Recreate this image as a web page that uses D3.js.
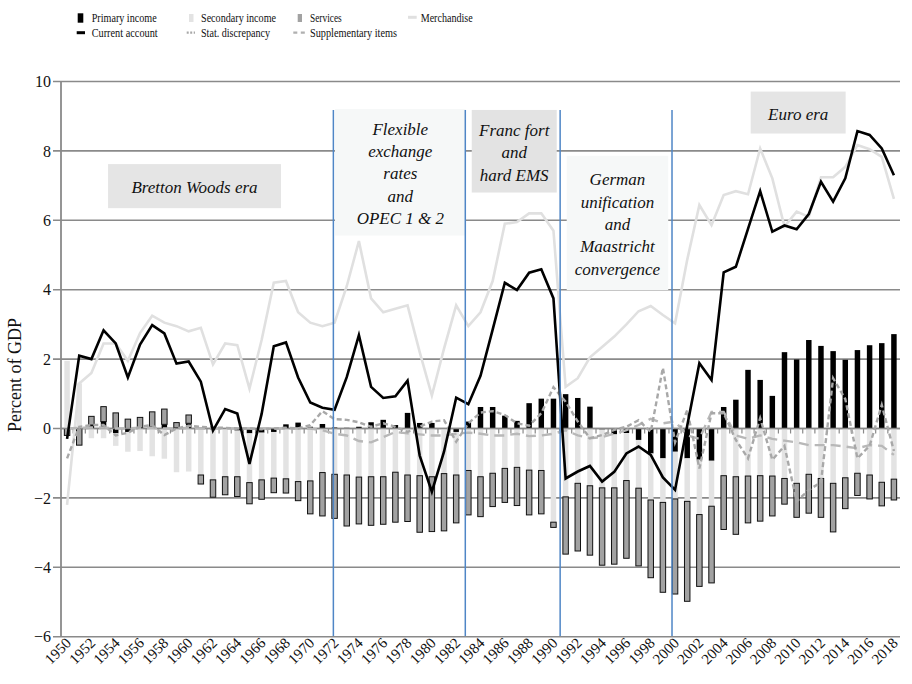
<!DOCTYPE html>
<html><head><meta charset="utf-8">
<script src="https://cdn.jsdelivr.net/npm/d3@7"></script>
<style>
body{margin:0;background:#fff}
svg{display:block}
text{font-family:"Liberation Serif","Times New Roman",serif;fill:#111}
</style>
</head><body><svg id="chart" width="912" height="684"></svg>
<script>
// ---------------- DATA ----------------
const years = [1950,1951,1952,1953,1954,1955,1956,1957,1958,1959,1960,1961,1962,1963,1964,1965,1966,1967,1968,1969,
1970,1971,1972,1973,1974,1975,1976,1977,1978,1979,1980,1981,1982,1983,1984,1985,1986,1987,1988,1989,
1990,1991,1992,1993,1994,1995,1996,1997,1998,1999,2000,2001,2002,2003,2004,2005,2006,2007,2008,2009,
2010,2011,2012,2013,2014,2015,2016,2017,2018];

const primaryIncome = [0.0,0.0,0.1,0.2,-0.14,-0.1,0.02,0.05,0.12,0.02,0.15,0.02,-0.03,0.0,-0.06,-0.14,-0.12,-0.1,0.12,0.17,
0.05,0.13,0.03,0.02,0.05,0.18,0.25,0.1,0.45,0.16,0.16,0.0,-0.1,0.2,0.62,0.62,0.37,0.22,0.73,0.86,
0.86,0.99,0.88,0.63,-0.03,-0.17,-0.13,-0.33,-0.72,-0.86,-0.67,-0.86,-0.9,-0.93,0.62,0.83,1.69,1.4,0.94,2.2,
1.99,2.55,2.38,2.23,1.98,2.26,2.4,2.46,2.72];

const secondaryIncome = [1.95,1.3,-0.28,-0.28,-0.36,-0.57,-0.65,-0.8,-0.87,-1.26,-1.24,-1.34,-1.45,-1.39,-1.33,-1.42,-1.36,-1.33,-1.45,-1.53,
-1.51,-1.27,-1.32,-1.34,-1.4,-1.39,-1.39,-1.26,-1.34,-1.36,-1.39,-1.3,-1.24,-1.21,-1.39,-1.29,-1.15,-1.12,-1.2,-1.21,
-2.7,-1.97,-1.58,-1.65,-1.68,-1.54,-1.37,-1.39,-1.34,-1.27,-1.36,-1.24,-1.58,-1.31,-1.36,-1.39,-1.37,-1.36,-1.37,-1.44,
-1.58,-1.32,-1.44,-1.58,-1.42,-1.29,-1.34,-1.55,-1.46];

const services = [-0.2,-0.48,0.25,0.43,0.45,0.27,0.3,0.43,0.44,0.15,0.24,-0.26,-0.5,-0.52,-0.57,-0.61,-0.56,-0.42,-0.41,-0.55,
-0.95,-1.25,-1.27,-1.47,-1.35,-1.4,-1.37,-1.44,-1.34,-1.63,-1.58,-1.65,-1.38,-1.28,-1.15,-0.96,-0.98,-1.1,-1.29,-1.25,
-0.15,-1.65,-1.95,-2.0,-2.23,-2.2,-2.24,-2.24,-2.24,-2.59,-2.74,-2.88,-2.07,-2.21,-1.55,-1.66,-1.35,-1.31,-1.15,-0.74,
-0.98,-1.12,-1.12,-1.4,-0.89,-0.64,-0.69,-0.68,-0.6];

const merchandise = [-2.2,1.3,1.6,2.45,2.45,1.95,2.75,3.25,3.05,2.95,2.8,2.9,1.85,2.45,2.4,1.15,2.55,4.2,4.25,3.35,
3.05,2.95,3.05,4.1,5.4,3.75,3.35,3.45,3.55,2.2,0.95,2.3,3.55,2.95,3.35,4.25,5.9,5.95,6.2,6.2,
5.7,1.2,1.45,2.05,2.35,2.65,3.0,3.38,3.53,3.27,3.03,4.86,6.44,5.86,6.73,6.84,6.75,8.07,7.21,5.82,
6.25,6.1,7.24,7.24,7.54,8.17,8.05,7.83,6.62];

const currentAccount = [-0.3,2.1,2.0,2.83,2.45,1.47,2.42,2.98,2.74,1.87,1.93,1.35,-0.06,0.56,0.43,-1.02,0.42,2.37,2.48,1.47,
0.75,0.6,0.54,1.48,2.69,1.2,0.88,0.93,1.38,-0.78,-1.82,-0.67,0.89,0.7,1.52,2.85,4.2,3.99,4.49,4.59,
3.75,-1.44,-1.24,-1.08,-1.53,-1.25,-0.72,-0.52,-0.76,-1.41,-1.77,0.08,1.88,1.4,4.5,4.66,5.75,6.84,5.67,5.85,
5.74,6.18,7.11,6.54,7.21,8.57,8.46,8.07,7.3];

const statDiscrepancy = [-0.86,0.05,0.1,0.1,-0.2,-0.12,0.05,0.1,-0.19,0.0,0.08,0.05,0.03,0.02,0.0,0.0,-0.02,0.0,0.02,0.0,
0.1,0.5,0.27,0.25,0.18,0.05,0.15,0.05,-0.1,0.05,0.2,0.24,-0.38,0.15,0.46,0.5,0.39,0.15,0.08,0.44,
1.19,0.77,0.2,-0.28,-0.19,-0.04,0.05,0.24,-0.1,1.75,-0.4,0.53,-1.15,0.44,0.44,-0.33,-0.86,0.3,-0.9,-0.5,
-2.1,-1.77,-1.55,1.45,0.85,-0.86,-0.5,0.68,-0.65];

const supplementaryItems = [0.0,0.02,0.03,0.03,0.0,0.0,0.02,0.02,0.0,0.0,0.02,0.0,0.0,0.0,0.0,0.0,0.0,0.0,0.0,0.0,
0.0,-0.05,-0.15,-0.2,-0.36,-0.4,-0.25,-0.1,-0.14,-0.17,-0.2,-0.2,-0.15,-0.12,-0.15,-0.2,-0.2,-0.15,-0.22,-0.2,
-0.15,-0.05,-0.2,-0.28,-0.25,-0.15,-0.05,0.1,0.28,0.15,0.2,-0.2,-0.3,0.48,0.48,-0.2,-0.3,-0.2,-0.3,-0.35,
-0.4,-0.48,-0.48,-0.48,-0.52,-0.57,-0.48,-0.5,-0.76];

const yTicks = [-6,-4,-2,0,2,4,6,8,10];
const xLabelYears = [1950,1952,1954,1956,1958,1960,1962,1964,1966,1968,1970,1972,1974,1976,1978,1980,1982,1984,1986,1988,
1990,1992,1994,1996,1998,2000,2002,2004,2006,2008,2010,2012,2014,2016,2018];

const eraBreaks = [1971.9, 1982.75, 1990.55, 1999.75];
const eraLabels = [
  {lines:["Bretton Woods era"], from:1953.37, to:1967.59, top:7.62, bottom:6.35, shade:"#e5e5e5"},
  {lines:["Flexible","exchange","rates","and","OPEC 1 & 2"], from:1972.03, to:1982.78, top:9.21, bottom:5.56, shade:"#f6f8f8"},
  {lines:["Franc fort","and","hard EMS"], from:1983.28, to:1990.27, top:9.18, bottom:6.8, shade:"#e3e3e3"},
  {lines:["German","unification","and","Maastricht","convergence"], from:1991.09, to:1999.44, top:7.86, bottom:3.99, shade:"#f6f8f8"},
  {lines:["Euro era"], from:2006.22, to:2014.03, top:9.71, bottom:8.5, shade:"#e5e5e5"}
];

// ---------------- CHART ----------------
const svg = d3.select("#chart");
const L = 61, R = 900;
const x = d3.scaleBand().domain(years).range([L, R]).paddingInner(0.55).paddingOuter(0.275);
const xYear = d3.scaleLinear().domain([1949.5, 2018.5]).range([L, R]);
const y = d3.scaleLinear().domain([-6, 10]).range([636.7, 81.5]);

const rows = years.map((yr, i) => ({year: yr, primary: primaryIncome[i], secondary: secondaryIncome[i], services: services[i]}));
const stack = d3.stack().keys(["primary","secondary","services"]).offset(d3.stackOffsetDiverging);
const stacked = stack(rows);

const gridColor = "#8a8a8a";
svg.append("g").selectAll("line").data(yTicks).join("line")
  .attr("x1", L - 8).attr("x2", R)
  .attr("y1", d => y(d)).attr("y2", d => y(d))
  .attr("stroke", gridColor).attr("stroke-width", 1.6);
svg.append("line").attr("x1", L).attr("x2", L).attr("y1", y(10)).attr("y2", y(-6))
  .attr("stroke", gridColor).attr("stroke-width", 1.8);

const yAxis = d3.axisLeft(y).tickValues(yTicks).tickSize(0).tickPadding(0);
const gy = svg.append("g").attr("transform", `translate(${L - 10},0)`).call(yAxis);
gy.select(".domain").remove();
gy.selectAll("text").attr("font-size", 16).attr("font-family", "Liberation Serif").attr("fill", "#111").attr("dy", "0.33em");

svg.append("text").attr("transform", "translate(21,375) rotate(-90)")
  .attr("text-anchor", "middle").attr("font-size", 18).text("Percent of GDP");

const eg = svg.append("g");
eraLabels.forEach(e => {
  const x0 = xYear(e.from), x1 = xYear(e.to), y0 = y(e.top), y1 = y(e.bottom);
  eg.append("rect").attr("x", x0).attr("y", y0).attr("width", x1 - x0).attr("height", y1 - y0).attr("fill", e.shade);
  const cx = (x0 + x1) / 2, cy = (y0 + y1) / 2 + 1.5, lh = 22.3;
  const start = cy - (e.lines.length - 1) * lh / 2;
  e.lines.forEach((t, k) => {
    eg.append("text").attr("x", cx).attr("y", start + k * lh).attr("dy", "0.33em")
      .attr("text-anchor", "middle").attr("font-style", "italic").attr("font-size", 17).text(t);
  });
});

const barColors = {primary: "#000", secondary: "#e3e3e3", services: "#a2a2a2"};
stacked.forEach(layer => {
  const key = layer.key;
  svg.append("g").selectAll("rect").data(layer).join("rect")
    .attr("x", d => x(d.data.year))
    .attr("width", x.bandwidth())
    .attr("y", d => y(Math.max(d[0], d[1])))
    .attr("height", d => Math.abs(y(d[0]) - y(d[1])))
    .attr("fill", barColors[key])
    .attr("stroke", key === "services" ? "#111" : "none")
    .attr("stroke-width", key === "services" ? 1 : 0);
});

svg.append("line").attr("x1", L).attr("x2", R).attr("y1", y(0)).attr("y2", y(0))
  .attr("stroke", gridColor).attr("stroke-width", 1.6);
svg.append("g").selectAll("line").data(years.slice(1)).join("line")
  .attr("x1", d => x(d) - x.step() * x.paddingInner() / 2)
  .attr("x2", d => x(d) - x.step() * x.paddingInner() / 2)
  .attr("y1", y(0)).attr("y2", y(0) + 5)
  .attr("stroke", gridColor).attr("stroke-width", 1.2);

const cx = d => x(d) + x.bandwidth() / 2;
const mk = arr => d3.line().x((d, i) => cx(years[i])).y(d => y(d))(arr);
svg.append("path").attr("d", mk(merchandise)).attr("fill", "none").attr("stroke", "#e0e0e0").attr("stroke-width", 2.6);
svg.append("path").attr("d", mk(supplementaryItems)).attr("fill", "none").attr("stroke", "#b8b8b8").attr("stroke-width", 2.4).attr("stroke-dasharray", "10,6");
svg.append("path").attr("d", mk(statDiscrepancy)).attr("fill", "none").attr("stroke", "#a8a8a8").attr("stroke-width", 2.4).attr("stroke-dasharray", "5,3");
svg.append("path").attr("d", mk(currentAccount)).attr("fill", "none").attr("stroke", "#000").attr("stroke-width", 2.6).attr("stroke-linejoin", "miter");

svg.append("g").selectAll("line").data(eraBreaks).join("line")
  .attr("x1", d => xYear(d)).attr("x2", d => xYear(d))
  .attr("y1", 110).attr("y2", 636)
  .attr("stroke", "#4f86c6").attr("stroke-width", 1.5);

svg.append("g").selectAll("text").data(xLabelYears).join("text")
  .attr("transform", d => `translate(${cx(d) + 5},${644}) rotate(-45)`)
  .attr("text-anchor", "end").attr("font-size", 15).text(d => d);

const lg = svg.append("g");
const legendItems = [
  {name:"Primary income", tx:91.7, ty:22.3, w:65, kind:"rect", fill:"#000", rx:77.7, ry:13.3, rw:5.6, rh:9.4},
  {name:"Secondary income", tx:201, ty:22.3, w:75, kind:"rect", fill:"#e3e3e3", rx:189, ry:14, rw:4.5, rh:8},
  {name:"Services", tx:310, ty:22.3, w:31.7, kind:"rect", fill:"#a2a2a2", rx:297.7, ry:14, rw:4.3, rh:8},
  {name:"Merchandise", tx:420.7, ty:22.3, w:52, kind:"line", stroke:"#e0e0e0", lx1:408, lx2:416.7, ly:17.3, dash:null},
  {name:"Current account", tx:91.7, ty:37.2, w:66, kind:"line", stroke:"#000", lx1:76.7, lx2:85, ly:32.7, dash:null},
  {name:"Stat. discrepancy", tx:201, ty:37.2, w:69, kind:"line", stroke:"#a8a8a8", lx1:186.7, lx2:195, ly:32.7, dash:"2,1.5"},
  {name:"Supplementary items", tx:310, ty:37.2, w:87, kind:"line", stroke:"#b0b0b0", lx1:293.3, lx2:306, ly:32.7, dash:"4,3.5"}
];
legendItems.forEach(it => {
  if (it.kind === "rect") {
    lg.append("rect").attr("x", it.rx).attr("y", it.ry).attr("width", it.rw).attr("height", it.rh).attr("fill", it.fill);
  } else {
    const ln = lg.append("line").attr("x1", it.lx1).attr("x2", it.lx2).attr("y1", it.ly).attr("y2", it.ly)
      .attr("stroke", it.stroke).attr("stroke-width", 3);
    if (it.dash) ln.attr("stroke-dasharray", it.dash).attr("stroke-width", 2.2);
  }
  lg.append("text").attr("x", it.tx).attr("y", it.ty).attr("font-size", 12.8)
    .attr("textLength", it.w).attr("lengthAdjust", "spacingAndGlyphs").text(it.name);
});
</script>
</body></html>
